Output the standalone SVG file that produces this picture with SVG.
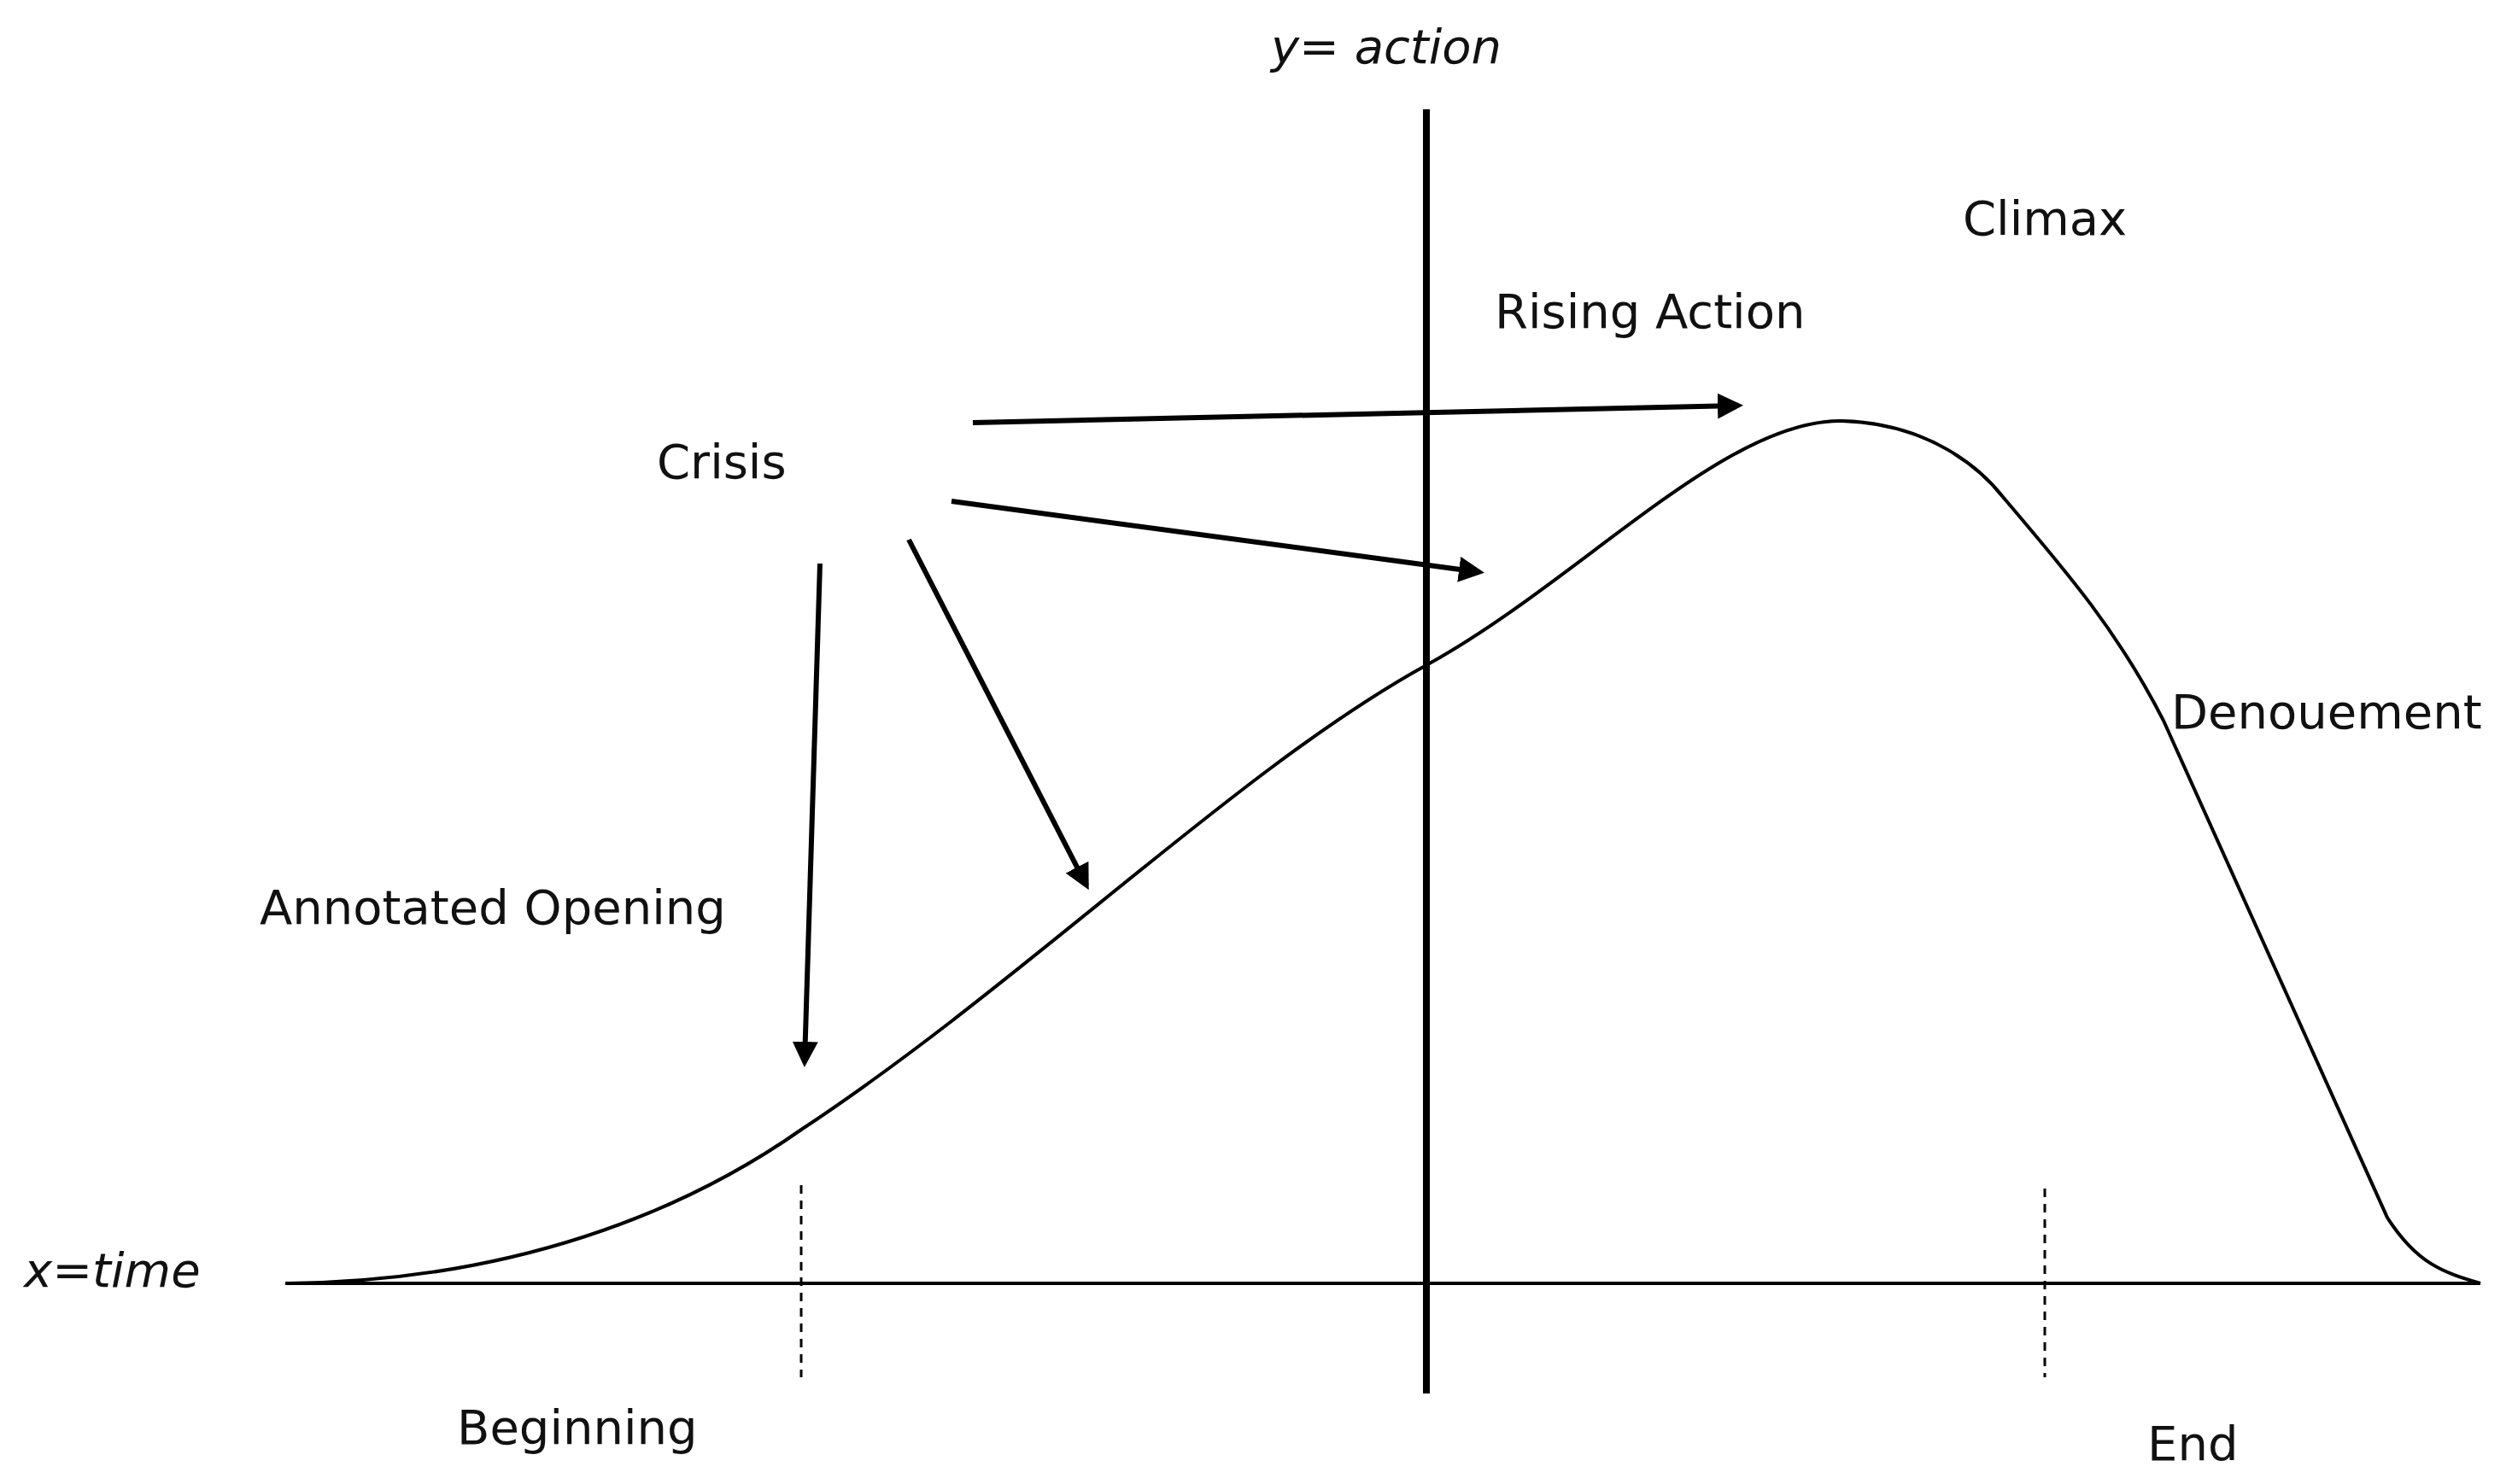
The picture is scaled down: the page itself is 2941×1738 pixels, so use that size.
<svg xmlns="http://www.w3.org/2000/svg" width="2941" height="1738" viewBox="0 0 2941 1738">
<style>
text{font-family:"DejaVu Sans","Liberation Sans",sans-serif;font-size:56px;fill:#111}
.ax{stroke:#000;fill:none}
.ar{stroke:#000;stroke-width:6;fill:none;marker-end:url(#h)}
.d{stroke:#000;stroke-width:3;stroke-dasharray:10 8}
</style>
<defs><marker id="h" viewBox="0 0 10 10" refX="8" refY="5" markerWidth="5" markerHeight="5" orient="auto" markerUnits="strokeWidth"><path d="M0,0L10,5L0,10z" fill="#000"/></marker></defs>
<rect width="2941" height="1738" fill="#fff"/>
<g id="axes">
<line class="ax" x1="1670" y1="128" x2="1670" y2="1632" stroke-width="8"/>
<line class="ax" x1="334" y1="1503" x2="2904" y2="1503" stroke-width="4"/>
<text x="1623" y="74" text-anchor="middle" font-style="italic">y= action</text>
<text x="28" y="1507" font-style="italic">x=time</text>
</g>
<g id="curve"><path class="ax" stroke-width="4" d="M338,1503 C600,1500 800,1420 938,1323 C1200,1150 1450,900 1670,779 C1850,680 2020,490 2157,493 C2260,496 2320,550 2345,582 C2420,670 2480,740 2533,844 L2795,1426 C2830,1480 2860,1490 2904,1503"/></g>
<g id="dashes"><line class="d" x1="938" y1="1388" x2="938" y2="1613"/><line class="d" x1="2394" y1="1392" x2="2394" y2="1613"/></g>
<g id="labels">
<text x="2298" y="275">Climax</text>
<text x="1750" y="384">Rising Action</text>
<text x="769" y="560">Crisis</text>
<text x="2542" y="853">Denouement</text>
<text x="304" y="1082">Annotated Opening</text>
<text x="535" y="1691">Beginning</text>
<text x="2514" y="1710">End</text>
</g>
<g id="connectors">
<line class="ar" x1="1139" y1="495" x2="2035" y2="475"/>
<line class="ar" x1="1114" y1="587" x2="1732" y2="670"/>
<line class="ar" x1="1064" y1="632" x2="1272" y2="1037"/>
<line class="ar" x1="960" y1="660" x2="942" y2="1244"/>
</g>
</svg>
